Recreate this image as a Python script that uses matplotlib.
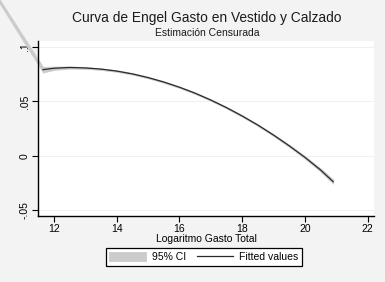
import numpy as np
import matplotlib
matplotlib.use('Agg')
import matplotlib.pyplot as plt

plt.rcParams['font.family'] = ['Liberation Sans', 'DejaVu Sans']

# valores
gasto = [11.65, 12.0, 12.5, 13.0, 13.5, 14.0, 14.5, 15.0, 15.5, 16.0, 16.5,
         17.0, 17.5, 18.0, 18.5, 19.0, 19.5, 20.0, 20.5, 20.9]
ajuste = [0.0792, 0.0805, 0.0812, 0.0808, 0.0797, 0.0779, 0.0753, 0.0719,
          0.0678, 0.0630, 0.0575, 0.0512, 0.0442, 0.0365, 0.0281, 0.0189,
          0.0090, -0.0016, -0.0133, -0.0240]
semiancho = [0.0026, 0.0015, 0.0010, 0.0008, 0.0007, 0.0007, 0.0007, 0.0007,
             0.0007, 0.0007, 0.0007, 0.0007, 0.0007, 0.0008, 0.0008, 0.0009,
             0.0010, 0.0012, 0.0015, 0.0018]
# tramo del IC que se sale por arriba a la izquierda
ic_x_fuera = [10.0, 11.65]
ic_inf_fuera = [0.1525, 0.0766]
ic_sup_fuera = [0.1560, 0.0818]

xticks = [12, 14, 16, 18, 20, 22]
yticks = [-0.05, 0, 0.05, 0.1]
ylabels = ['-.05', '0', '.05', '.1']

ajuste = np.array(ajuste)
semiancho = np.array(semiancho)

fig = plt.figure(figsize=(3.85, 2.82), dpi=100)
fig.patch.set_facecolor('#f3f3f3')
ax = fig.add_axes([38/385, 1-216/282, (374-38)/385, (216-41)/282])
ax.set_facecolor('white')

gris = '#cbcbcb'
ax.fill_between(ic_x_fuera, ic_inf_fuera, ic_sup_fuera, color=gris, lw=0.5,
                edgecolor=gris, clip_on=False, zorder=2)
ci = ax.fill_between(gasto, ajuste - semiancho, ajuste + semiancho, color=gris,
                     lw=0.6, edgecolor=gris, zorder=2, label='95% CI')
ln, = ax.plot(gasto, ajuste, color='#2a2a2a', lw=0.9, zorder=3,
              solid_joinstyle='round', label='Fitted values')

ax.set_xlim(11.49, 22.2)
ax.set_ylim(-0.0556, 0.1056)
ax.set_xticks(xticks)
ax.set_yticks(yticks)
ax.set_yticklabels(ylabels, rotation=90, va='center')
ax.tick_params(labelsize=7.5, length=4, width=0.8, direction='out', pad=2)
for y in yticks:
    ax.axhline(y, color='#eeeeee', lw=0.6, zorder=1)

for s in ['top', 'right']:
    ax.spines[s].set_visible(False)
for s in ['left', 'bottom']:
    ax.spines[s].set_linewidth(1.0)

ax.set_xlabel('Logaritmo Gasto Total', fontsize=7.5, labelpad=0)

fig.text(207/385, 1-18/282, 'Curva de Engel Gasto en Vestido y Calzado',
         ha='center', va='center', fontsize=9.9, color='#1a1a1a')
fig.text(207/385, 1-33/282, 'Estimación Censurada', ha='center', va='center',
         fontsize=7.5, color='#1a1a1a')

leg = fig.legend([ci, ln], ['95% CI', 'Fitted values'], loc='center',
                 bbox_to_anchor=(204/385, 1-257/282), ncol=2, fontsize=7.5,
                 handlelength=3.5, handleheight=1.05, fancybox=False,
                 framealpha=1, edgecolor='black', borderpad=0.35,
                 columnspacing=1.0, handletextpad=0.6)
leg.get_frame().set_linewidth(0.9)

fig.savefig('out.png', dpi=100, facecolor=fig.get_facecolor())
